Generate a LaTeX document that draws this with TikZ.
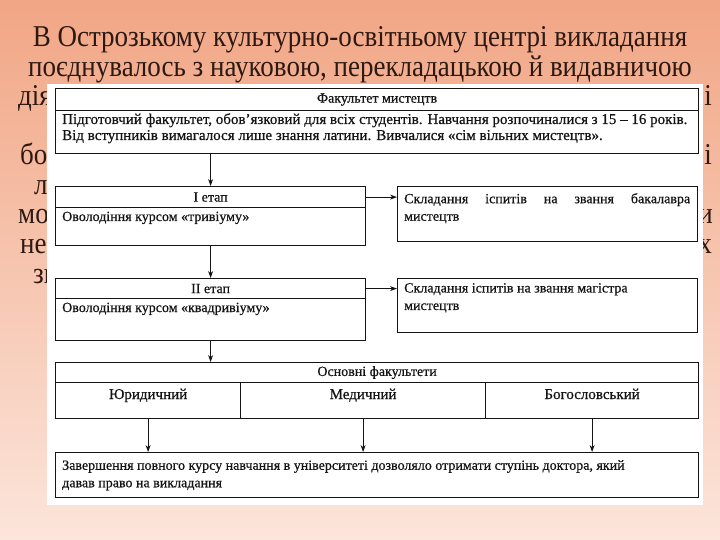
\documentclass[tikz,border=0pt]{standalone}
\usepackage{fontspec}
\setmainfont{Liberation Serif}
\newfontfamily\scanfont[FakeBold=0.6]{Liberation Serif}
\usetikzlibrary{arrows.meta}
\definecolor{bgtop}{RGB}{241,166,133}
\definecolor{bgbot}{RGB}{252,229,219}
\definecolor{ttl}{RGB}{45,25,18}
\definecolor{ink}{RGB}{20,20,20}
\tikzset{
  bgtext/.style={font=\fontsize{27}{30}\selectfont, text=ttl, inner sep=0pt},
  cellbox/.style={draw=ink, line width=1.2pt, inner sep=0pt, anchor=north west},
  boxtext/.style={font=\scanfont\fontsize{14}{17.5}\selectfont, text=ink, inner sep=0pt},
  bigtext/.style={font=\scanfont\fontsize{15}{16}\selectfont, text=ink, inner sep=0pt},
  flow/.style={draw=ink, line width=0.9pt, -{Stealth[length=7pt,width=5pt]}},
}
\newcommand{\tall}[1]{\scalebox{1}[1.12]{#1}}
\begin{document}
\begin{tikzpicture}[x=1pt,y=-1pt]
\useasboundingbox (0,0) rectangle (720,540);
\shade[top color=bgtop, bottom color=bgbot] (0,0) rectangle (720,540);

% background title lines (partly hidden by the panel)
\node[bgtext, anchor=base] (t1) at (360,47) {\tall{В Острозькому культурно-освітньому центрі викладання}};
\node[bgtext, anchor=base] (t2) at (360,76.5) {\tall{поєднувалось з науковою, перекладацькою й видавничою}};
\node[bgtext, anchor=base west] (t3l) at (18,106) {\tall{діял}};
\node[bgtext, anchor=base east] (t3r) at (712,106) {\tall{і}};
\node[bgtext, anchor=base west] (t4l) at (20,165) {\tall{бог}};
\node[bgtext, anchor=base east] (t4r) at (712,165) {\tall{і}};
\node[bgtext, anchor=base west] (t5l) at (34,194.5) {\tall{л}};
\node[bgtext, anchor=base west] (t6l) at (18,224) {\tall{мон}};
\node[bgtext, anchor=base east] (t6r) at (713,224) {\tall{и}};
\node[bgtext, anchor=base west] (t7l) at (20,253.5) {\tall{не з}};
\node[bgtext, anchor=base east] (t7r) at (712,253.5) {\tall{х}};
\node[bgtext, anchor=base west] (t8l) at (33,283) {\tall{зн}};

% white panel
\node[fill=white, draw=none, minimum width=656pt, minimum height=421pt, anchor=north west, inner sep=0pt] (panel) at (47,84) {};

% Факультет мистецтв
\node[cellbox, minimum width=643pt, minimum height=22pt] (fmh) at (55,88) {};
\node[cellbox, minimum width=643pt, minimum height=43pt] (fmb) at (55,110) {};
\node[boxtext] (fmht) at (fmh.center) {Факультет мистецтв};
\node[bigtext, anchor=base west] (fml1) at (62,124) {Підготовчий факультет, обов’язковий для всіх студентів. Навчання розпочиналися з 15 – 16 років.};
\node[bigtext, anchor=base west] (fml2) at (62,140) {Від вступників вимагалося лише знання латини. Вивчалися «сім вільних мистецтв».};

% I етап
\node[cellbox, minimum width=310pt, minimum height=21pt] (e1h) at (55,186) {};
\node[cellbox, minimum width=310pt, minimum height=38pt] (e1b) at (55,207) {};
\node[boxtext] (e1ht) at (e1h.center) {I етап};
\node[boxtext, anchor=base west] (e1t) at (62,221) {Оволодіння курсом «тривіуму»};

\node[cellbox, minimum width=300pt, minimum height=55pt] (r1) at (397,186) {};
\node[boxtext, anchor=north west, text width=286pt, align=justify] (r1t) at (404,193) {Складання іспитів на звання бакалавра\linebreak мистецтв};

% II етап
\node[cellbox, minimum width=310pt, minimum height=20pt] (e2h) at (55,278) {};
\node[cellbox, minimum width=310pt, minimum height=42pt] (e2b) at (55,298) {};
\node[boxtext] (e2ht) at (e2h.center) {II етап};
\node[boxtext, anchor=base west] (e2t) at (62,312) {Оволодіння курсом «квадривіуму»};

\node[cellbox, minimum width=300pt, minimum height=54pt] (r2) at (397,278) {};
\node[boxtext, anchor=north west, align=left] (r2t) at (404,283) {Складання іспитів на звання магістра\\мистецтв};

% Основні факультети
\node[cellbox, minimum width=643pt, minimum height=20pt] (osh) at (55,362) {};
\node[boxtext] (osht) at (osh.center) {Основні факультети};
\node[cellbox, minimum width=185pt, minimum height=36pt] (jur) at (55,382) {};
\node[cellbox, minimum width=245pt, minimum height=36pt] (med) at (240,382) {};
\node[cellbox, minimum width=213pt, minimum height=36pt] (bog) at (485,382) {};
\node[bigtext, anchor=base] (jurt) at ([yshift=-17pt]jur.north) {Юридичний};
\node[bigtext, anchor=base] (medt) at ([yshift=-17pt]med.north) {Медичний};
\node[bigtext, anchor=base] (bogt) at ([yshift=-17pt]bog.north) {Богословський};

% final box
\node[cellbox, minimum width=643pt, minimum height=45pt] (fin) at (55,452) {};
\node[boxtext, anchor=north west, align=left] (fint) at (62,460) {Завершення повного курсу навчання в університеті дозволяло отримати ступінь доктора, який\\давав право на викладання};

% connectors
\draw[flow] (fmb.south -| e1h.north) -- (e1h.north);
\draw[flow] (e1b.south) -- (e2h.north);
\draw[flow] (e2b.south) -- (e2b.south |- osh.north);
\draw[flow] (e1h.east) -- (e1h.east -| r1.west);
\draw[flow] (e2h.east) -- (e2h.east -| r2.west);
\draw[flow] (jur.south) -- (jur.south |- fin.north);
\draw[flow] (med.south) -- (med.south |- fin.north);
\draw[flow] (bog.south) -- (bog.south |- fin.north);
\end{tikzpicture}
\end{document}
